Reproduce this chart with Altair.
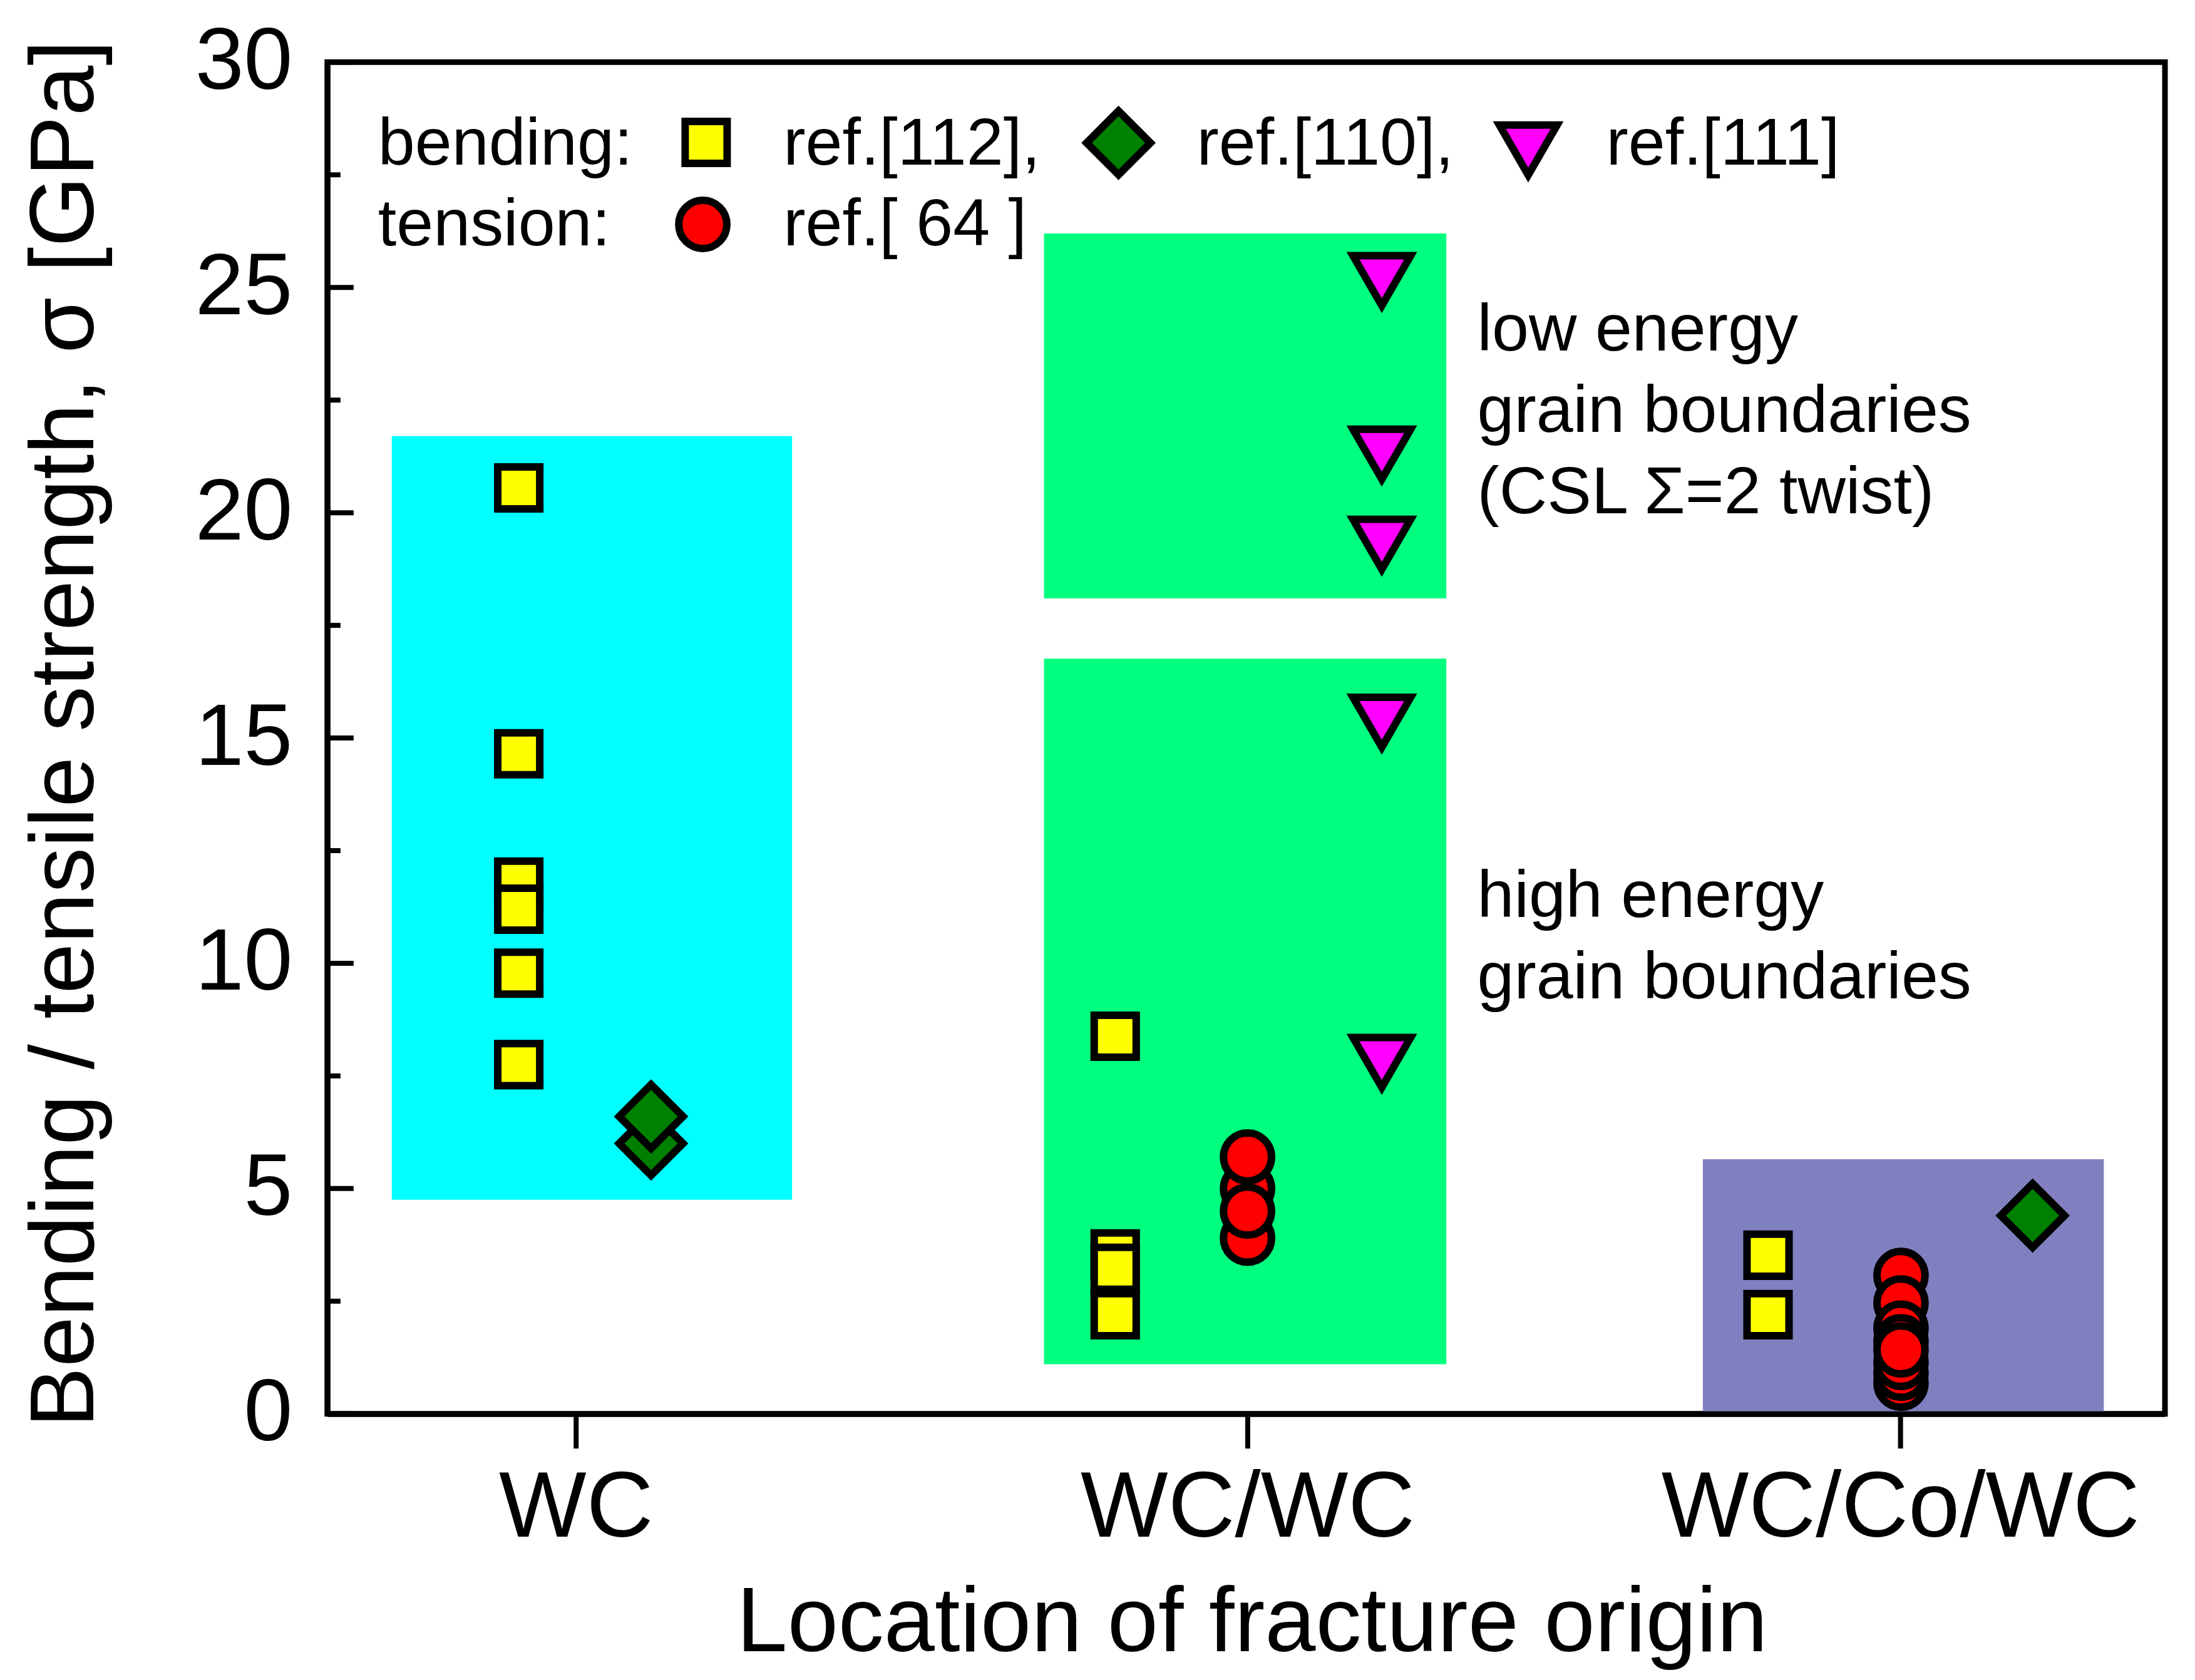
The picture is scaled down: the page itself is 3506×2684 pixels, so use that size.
import altair as alt
import pandas as pd

FONT = "Liberation Sans"

# categories on the x axis (numeric positions of the category ticks)
cat_names = ["WC", "WC/WC", "WC/Co/WC"]
cat_pos = [1.0, 2.0, 2.972]

# series: code, label, fill, shape, symbol area
series_codes = ["s4", "s3", "s2", "s1"]
series_labels = ["ref.[112],", "ref.[110],", "ref.[111]", "ref.[ 64 ]"]
series_fill = ["#FFFF00", "#008000", "#FF00FF", "#FF0000"]
series_shape = ["square", "diamond", "triangle-down", "circle"]
series_size = [4500, 10400, 8500, 5900]

# point groups: x position, series code, strength values [GPa]
grp_x = [0.915, 1.112, 1.803, 2.0, 2.2, 2.775, 2.973, 3.169]
grp_series = ["s4", "s3", "s4", "s1", "s2", "s4", "s1", "s3"]
grp_vals = [
    [20.55, 14.65, 11.8, 11.2, 9.78, 7.75],          # WC, ref.[112]
    [6.0, 6.6],                                       # WC, ref.[110]
    [8.38, 3.55, 3.23, 2.2],                          # WC/WC, ref.[112]
    [5.0, 3.9, 5.7, 4.5],                             # WC/WC, ref.[64]
    [25.15, 21.3, 19.3, 15.35, 7.8],                  # WC/WC, ref.[111]
    [3.52, 2.2],                                      # WC/Co/WC, ref.[112]
    [3.07, 2.46, 1.9, 1.6, 0.68, 0.9, 1.14, 1.42],    # WC/Co/WC, ref.[64]
    [4.4],                                            # WC/Co/WC, ref.[110]
]

# shaded regions
box_x1 = [0.726, 1.697, 1.697, 2.678]
box_x2 = [1.322, 2.296, 2.296, 3.275]
box_y1 = [4.75, 18.1, 1.1, 0.0]
box_y2 = [21.7, 26.2, 16.76, 5.65]
box_fill = ["#00FFFF", "#00FF7F", "#00FF7F", "#8080C0"]

# annotations
ann_text = ["low energy\ngrain boundaries\n(CSL \u03a3=2 twist)", "high energy\ngrain boundaries"]
ann_x = [2.342, 2.342]
ann_y = [23.6, 11.03]

# in-plot legend (key symbols and their texts)
key_series = ["s4", "s3", "s2", "s1"]
key_x = [1.194, 1.808, 2.418, 1.189]
key_y = [28.22, 28.21, 28.05, 26.4]
leg_text = ["bending:", "tension:"] + series_labels
leg_x = [0.7055, 0.7055, 1.309, 1.9245, 2.534, 1.309]
leg_y = [27.72, 25.93, 27.72, 27.72, 27.72, 25.93]

y_major = [0, 5, 10, 15, 20, 25, 30]
y_minor = [2.5, 7.5, 12.5, 17.5, 22.5, 27.5]

# ---------------- tables ----------------
rows = []
for x, s, vals in zip(grp_x, grp_series, grp_vals):
    for v in vals:
        rows.append({"x": x, "series": s, "v": v})
pts = pd.DataFrame(rows)
pts["order"] = range(len(pts))

keys = pd.DataFrame({"x": key_x, "v": key_y, "series": key_series})
keys["order"] = range(len(keys))

boxes = pd.DataFrame({"x1": box_x1, "x2": box_x2, "y1": box_y1, "y2": box_y2, "c": box_fill})
ann = pd.DataFrame({"x": ann_x, "y": ann_y, "t": ann_text})
leg = pd.DataFrame({"x": leg_x, "y": leg_y, "t": leg_text})
ymaj = pd.DataFrame({"v": y_major})
ymin = pd.DataFrame({"v": y_minor})

label_expr = " : ".join(
    f"abs(datum.value - {p}) < 0.01 ? '{n}'" for p, n in zip(cat_pos[:-1], cat_names[:-1])
) + f" : '{cat_names[-1]}'"

xscale = alt.Scale(domain=[0.63, 3.366], nice=False, zero=False)
yscale = alt.Scale(domain=[0, 30], nice=False, zero=False)

xaxis = alt.Axis(
    values=cat_pos, labelExpr=label_expr, title="Location of fracture origin",
    grid=False, domain=True, domainColor="black", domainWidth=9,
    ticks=True, tickColor="black", tickWidth=8, tickSize=55,
    labelFont=FONT, labelFontSize=148, labelColor="black", labelBaseline="alphabetic",
    labelPadding=141, labelFlush=False, labelOverlap=False, labelLimit=3000,
    titleFont=FONT, titleFontSize=146, titleFontWeight="normal", titleColor="black",
    titleX=1477, titleY=379, titleBaseline="alphabetic", titleAlign="center", zindex=1,
    titleLimit=4000,
)
yaxis = alt.Axis(
    values=y_major, title="Bending / tensile strength, \u03c3 [GPa]",
    grid=False, domain=True, domainColor="black", domainWidth=9,
    ticks=False, tickSize=0,
    labelFont=FONT, labelFontSize=140, labelColor="black", labelPadding=56,
    labelFlush=False, labelOverlap=False, labelLimit=3000,
    titleFont=FONT, titleFontSize=145, titleFontWeight="normal", titleColor="black",
    titleX=-374, titleY=1073, titleBaseline="alphabetic", titleAlign="center",
    titleAngle=270, zindex=1, titleLimit=4000,
)

def X(f):
    return alt.X(f, type="quantitative", scale=xscale, axis=xaxis)

def Y(f):
    return alt.Y(f, type="quantitative", scale=yscale, axis=yaxis)

rect_layer = alt.Chart(boxes).mark_rect(strokeWidth=0).encode(
    x=X("x1"), x2="x2", y=Y("y1"), y2="y2",
    color=alt.Color("c:N", scale=None),
)

ann_layer = alt.Chart(ann).mark_text(
    font=FONT, fontSize=106, align="left", baseline="alphabetic",
    lineBreak="\n", lineHeight=130, color="black",
).encode(x=X("x"), y=Y("y"), text="t:N")

leg_layer = alt.Chart(leg).mark_text(
    font=FONT, fontSize=106, align="left", baseline="alphabetic", color="black",
).encode(x=X("x"), y=Y("y"), text="t:N")

tick_major = alt.Chart(ymaj).mark_rule(color="black", strokeWidth=8).encode(
    y=Y("v"), x=alt.value(0), x2=alt.value(42)
)
tick_minor = alt.Chart(ymin).mark_rule(color="black", strokeWidth=8).encode(
    y=Y("v"), x=alt.value(0), x2=alt.value(21)
)

def symbol_layer(df):
    return alt.Chart(df).mark_point(
        filled=False, stroke="black", strokeWidth=12, opacity=1, fillOpacity=1,
    ).encode(
        x=X("x"), y=Y("v"),
        fill=alt.Fill("series:N", scale=alt.Scale(domain=series_codes, range=series_fill), legend=None),
        shape=alt.Shape("series:N", scale=alt.Scale(domain=series_codes, range=series_shape), legend=None),
        size=alt.Size("series:N", scale=alt.Scale(type="ordinal", domain=series_codes, range=series_size), legend=None),
        order=alt.Order("order:Q"),
    )

chart = alt.layer(
    rect_layer, ann_layer, leg_layer, tick_major, tick_minor,
    symbol_layer(keys), symbol_layer(pts)
).properties(
    width=2936, height=2160,
    autosize=alt.AutoSizeParams(type="none"),
    padding={"left": 515, "top": 91, "right": 40, "bottom": 420},
    background="white",
).configure_view(
    stroke="black", strokeWidth=9
)

chart.save("out.html", embed_options={"renderer": "svg", "actions": False})
